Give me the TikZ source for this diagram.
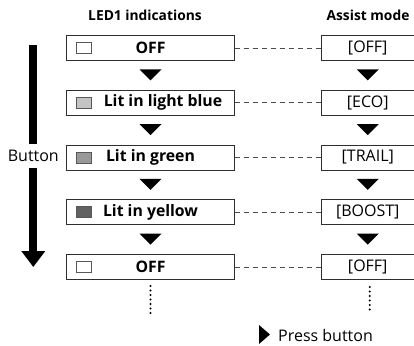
\documentclass[tikz,border=0pt]{standalone}
\usepackage{fontspec}
\setmainfont{Open Sans}
\usepackage{xcolor}
\usepackage{tikz}
\usetikzlibrary{positioning,arrows.meta,calc}

\definecolor{ledlb}{HTML}{C4C4C4}
\definecolor{ledgr}{HTML}{999999}
\definecolor{ledye}{HTML}{626262}
\definecolor{edgegray}{HTML}{2E2E2E}

\begin{document}
\begin{tikzpicture}[
  x=1bp, y=-1bp,
  font=\fontsize{16bp}{18bp}\selectfont,
  ledbox/.style={draw=edgegray, line width=1bp, rectangle, minimum width=167bp, minimum height=25bp, inner ysep=1bp, font=\fontsize{15.8bp}{18bp}\selectfont\bfseries},
  modebox/.style={draw=edgegray, line width=1bp, rectangle, minimum width=93.5bp, minimum height=25bp, inner ysep=1bp},
  lamp/.style={draw=edgegray!80, line width=1bp, rectangle, minimum width=15bp, minimum height=11bp, inner sep=0pt},
  title/.style={font=\fontsize{13.8bp}{16bp}\selectfont\bfseries},
  link/.style={draw=black!70, line width=0.8bp, dash pattern=on 5.5bp off 3.5bp},
  dots/.style={line width=2.4bp, line cap=round, dash pattern=on 0pt off 4.5bp},
  bigarr/.style={line width=8bp, -{Triangle[width=23bp,length=16bp]}},
]
  \useasboundingbox (0,0) rectangle (414,346);

  % column titles
  \node[title] (ledtitle) at (145,15) {LED1 indications};
  \node[title] (modetitle) at (368,15) {Assist mode};

  % LED1 column
  \node[ledbox] (off1) at (150.5,48) {OFF};
  \node[ledbox, below=28.75bp of off1] (blue) {\hspace*{25bp}Lit in light blue};
  \node[ledbox, below=28.75bp of blue] (green) {Lit in green};
  \node[ledbox, below=28.75bp of green] (yellow) {Lit in yellow};
  \node[ledbox, below=28.75bp of yellow] (off2) {OFF};

  % lamp squares
  \node[lamp, fill=white] at ([xshift=18bp]off1.west) (lamp1) {};
  \node[lamp, fill=ledlb] at ([xshift=18bp]blue.west) (lamp2) {};
  \node[lamp, fill=ledgr] at ([xshift=18bp]green.west) (lamp3) {};
  \node[lamp, fill=ledye] at ([xshift=18bp]yellow.west) (lamp4) {};
  \node[lamp, fill=white] at ([xshift=18bp]off2.west) (lamp5) {};

  % Assist mode column
  \node[modebox, right=86bp of off1] (moff1) {[OFF]};
  \node[modebox, right=86bp of blue] (meco) {[ECO]};
  \node[modebox, right=86bp of green] (mtrail) {[TRAIL]};
  \node[modebox, right=86bp of yellow] (mboost) {[BOOST]};
  \node[modebox, right=86bp of off2] (moff2) {[OFF]};

  % dashed links between the columns
  \draw[link] (off1) -- (moff1);
  \draw[link] (blue) -- (meco);
  \draw[link] (green) -- (mtrail);
  \draw[link] (yellow) -- (mboost);
  \draw[link] (off2) -- (moff2);

  % press-button triangles between the boxes
  \foreach \a/\b in {off1/blue, blue/green, green/yellow, yellow/off2, moff1/meco, meco/mtrail, mtrail/mboost, mboost/moff2} {
    \path (\a.south) -- (\b.north) coordinate[midway] (m);
    \fill ($(m)+(0,-0.5)$) +(-11,-5.5) -- +(11,-5.5) -- +(0,5.5) -- cycle;
  }

  % continuation dots
  \coordinate[below=6bp of off2] (ldots);
  \coordinate[below=34bp of off2] (ldotsend);
  \draw[dots] (ldots) -- (ldotsend);
  \coordinate (rdots) at ($(moff2.south)+(2,7)$);
  \coordinate (rdotsend) at ($(moff2.south)+(2,34)$);
  \draw[dots] (rdots) -- (rdotsend);

  % button arrow
  \coordinate (btop) at (33.3,45);
  \coordinate (bbot) at (33.3,267);
  \draw[bigarr] (btop) -- (bbot) node[midway, fill=white, inner xsep=1bp, inner ysep=6bp] (btn) {Button};

  % legend
  \coordinate (legtri) at (264.5,334.5);
  \fill (legtri) +(-5.5,-9.5) -- +(5.5,0) -- +(-5.5,9.5) -- cycle;
  \node[anchor=west, inner xsep=0pt] (legend) at (278,335) {Press button};
\end{tikzpicture}
\end{document}
